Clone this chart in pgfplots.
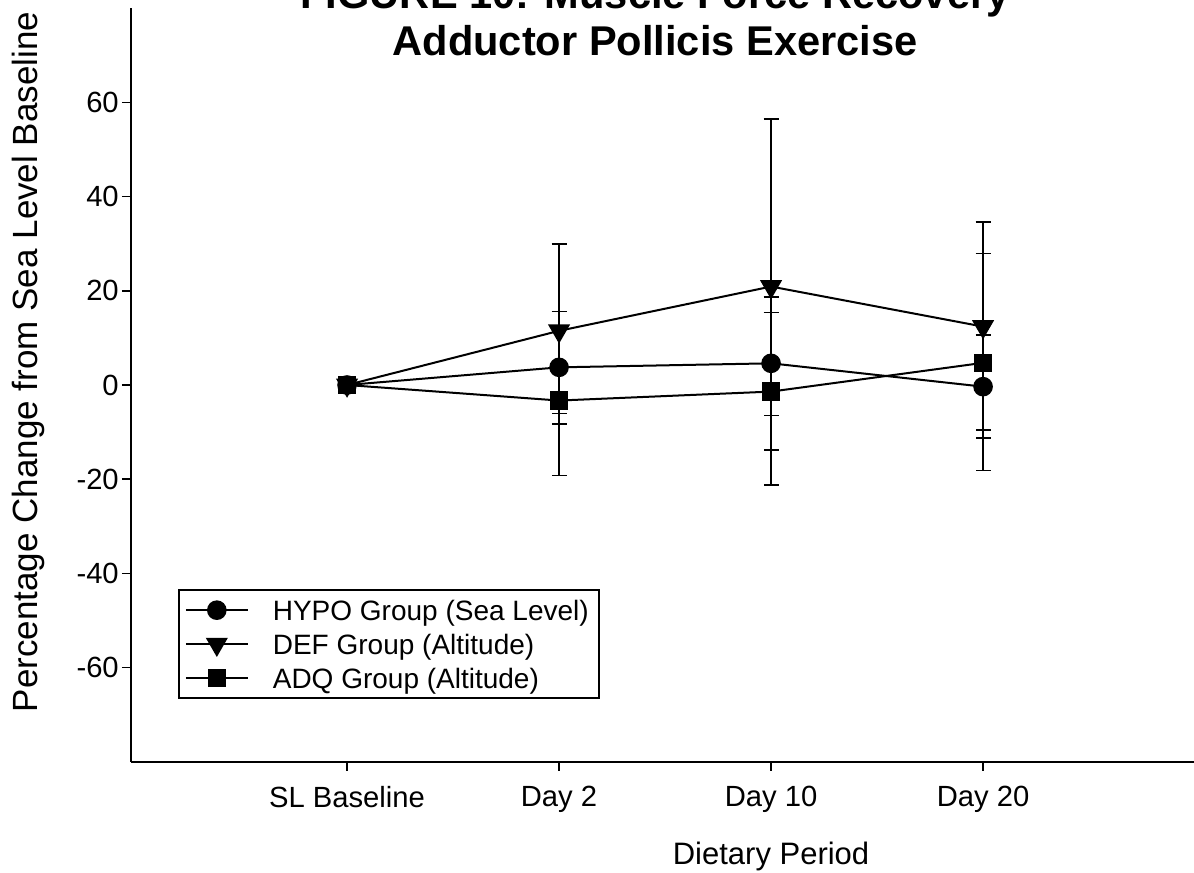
\documentclass[border=0pt]{standalone}
\usepackage{pgfplots}
\pgfplotsset{compat=1.18}
\usepackage{fontspec}
\setmainfont{Liberation Sans}

\begin{document}
\begin{tikzpicture}
\begin{axis}[
  x=106pt, y=2.355pt,
  xmin=-1.02, xmax=5, ymin=-80, ymax=80,
  axis x line=bottom, axis y line=left,
  axis line style={line width=1pt, -},
  xtick={0,1,2,3},
  xticklabels={SL Baseline, Day 2, Day 10, Day 20},
  ytick={-60,-40,-20,0,20,40,60},
  tick align=outside, major tick length=4.5pt,
  tick style={line width=0.75pt, black},
  minor tick num=0,
  ticklabel style={font=\fontsize{14.6}{16}\selectfont},
  xticklabel style={yshift=-4pt},
  yticklabel style={xshift=2pt},
  /pgf/number format/assume math mode=true,
  clip=false,
  legend cell align=left,
  legend style={
    at={(axis cs:-0.797,-43.4)}, anchor=north west,
    draw=black, line width=0.75pt,
    font=\fontsize{14}{16}\selectfont,
    inner xsep=3pt, inner ysep=3pt,
    row sep=3pt,
    nodes={text height=10pt, text depth=0pt, inner sep=2pt},
    /tikz/every odd column/.append style={column sep=10pt},
  },
  legend image code/.code={
    \draw[#1, mark repeat=2, mark phase=2]
      plot coordinates {(0pt,0pt) (15.5pt,0pt) (31pt,0pt)};
  },
  error bars/error bar style={line width=0.75pt, black},
  error bars/error mark options={rotate=90, mark size=3.75pt, line width=0.75pt, black},
]

% HYPO group, sea level
\addplot[black, line width=1pt, mark=*, mark size=4.4pt,
  mark options={solid, fill=black},
  error bars/.cd, y dir=both, y explicit]
coordinates {
  (0,0)
  (1,3.75)  += (0,11.85) -= (0,12.05)
  (2,4.6)   += (0,10.8)  -= (0,11.1)
  (3,-0.35) += (0,10.95) -= (0,10.95)
};
\addlegendentry{HYPO Group (Sea Level)}

% DEF group, altitude
\addplot[black, line width=1pt, mark=triangle*, mark size=5.4pt,
  mark options={solid, fill=black, rotate=180},
  error bars/.cd, y dir=both, y explicit]
coordinates {
  (0,0)
  (1,11.5) += (0,18.4)  -= (0,17.5)
  (2,20.9) += (0,35.6)  -= (0,34.7)
  (3,12.4) += (0,22.2)  -= (0,21.95)
};
\addlegendentry{DEF Group (Altitude)}

% ADQ group, altitude
\addplot[black, line width=1pt, mark=square*, mark size=4.1pt,
  mark options={solid, fill=black},
  error bars/.cd, y dir=both, y explicit]
coordinates {
  (0,0)
  (1,-3.3) += (0,15.9) -= (0,15.9)
  (2,-1.4) += (0,20.1) -= (0,19.8)
  (3,4.7)  += (0,23.2) -= (0,22.9)
};
\addlegendentry{ADQ Group (Altitude)}

% titles and axis labels
\node[anchor=base, font=\fontsize{20.8}{24}\bfseries\selectfont]
  at (axis cs:1.453,79.9) {FIGURE 10: Muscle Force Recovery};
\node[anchor=base, font=\fontsize{20.8}{24}\bfseries\selectfont]
  at (axis cs:1.453,70.06) {Adductor Pollicis Exercise};
\node[rotate=90, font=\fontsize{17.5}{20}\selectfont]
  at (axis cs:-1.505,4.9) {Percentage Change from Sea Level Baseline};
\node[anchor=base, font=\fontsize{15.5}{20}\selectfont]
  at (axis cs:2,-101.8) {Dietary Period};

% page extent
\coordinate (pagebl) at (axis cs:-1.637,-103.6);
\coordinate (pagetr) at (axis cs:3.995,81.74);
\end{axis}
\pgfresetboundingbox
\useasboundingbox (pagebl) rectangle (pagetr);
\end{tikzpicture}
\end{document}
